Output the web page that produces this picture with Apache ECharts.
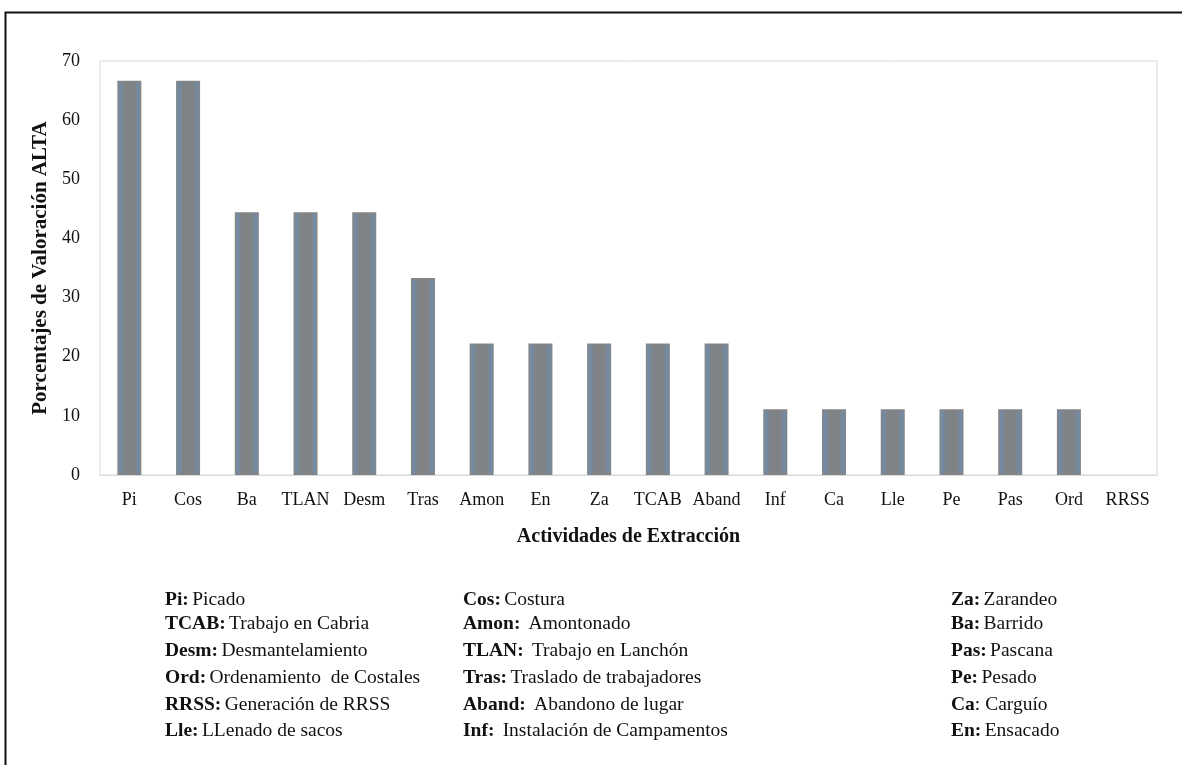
<!DOCTYPE html>
<html>
<head>
<meta charset="utf-8">
<script src="https://cdn.jsdelivr.net/npm/echarts@6/dist/echarts.min.js"></script>
<style>
  html, body { margin: 0; padding: 0; background: #fff; }
  #chart { width: 1182px; height: 765px; }
</style>
</head>
<body>
<div id="chart"></div>
<script>
// Activity codes along the x axis
const categories = ['Pi', 'Cos', 'Ba', 'TLAN', 'Desm', 'Tras', 'Amon', 'En', 'Za',
  'TCAB', 'Aband', 'Inf', 'Ca', 'Lle', 'Pe', 'Pas', 'Ord', 'RRSS'];
// Percentage of HIGH rating for each activity
const values = [66.67, 66.67, 44.44, 44.44, 44.44, 33.33, 22.22, 22.22, 22.22,
  22.22, 22.22, 11.11, 11.11, 11.11, 11.11, 11.11, 11.11, 0];
const yTicks = [0, 10, 20, 30, 40, 50, 60, 70];

// Key of abbreviations, three columns
const keyCol1 = [['Pi:', 'Picado'], ['TCAB:', 'Trabajo en Cabria'], ['Desm:', 'Desmantelamiento'],
  ['Ord:', 'Ordenamiento  de Costales'], ['RRSS:', 'Generación de RRSS'], ['Lle:', 'LLenado de sacos']];
const keyCol2 = [['Cos:', 'Costura'], ['Amon:', ' Amontonado'], ['TLAN:', ' Trabajo en Lanchón'],
  ['Tras:', 'Traslado de trabajadores'], ['Aband:', ' Abandono de lugar'], ['Inf:', ' Instalación de Campamentos']];
const keyCol3 = [['Za:', 'Zarandeo'], ['Ba:', 'Barrido'], ['Pas:', 'Pascana'],
  ['Pe:', 'Pesado'], ['Ca', ': Carguío'], ['En:', 'Ensacado']];

const FONT = '"Liberation Serif", "Times New Roman", serif';
const rowY = [601, 625, 652, 679, 706, 732];

function keyItems(col, x) {
  return col.map((pair, i) => ({
    type: 'text',
    left: x,
    top: rowY[i] - 11,
    style: {
      text: '{b|' + pair[0] + '}' + (pair[0].endsWith(':') ? ' ' : '') + '{n|' + pair[1] + '}',
      rich: {
        b: { fontFamily: FONT, fontSize: 19.5, fontWeight: 'bold', fill: '#111' },
        n: { fontFamily: FONT, fontSize: 19.5, fill: '#111' }
      }
    }
  }));
}

const chart = echarts.init(document.getElementById('chart'));
chart.setOption({
  animation: false,
  backgroundColor: '#fff',
  grid: {
    left: 100, top: 61, right: 25, bottom: 290,
    show: true, borderColor: '#d9d9d9', borderWidth: 1, backgroundColor: 'transparent'
  },
  xAxis: {
    type: 'category',
    data: categories,
    name: 'Actividades de Extracción',
    nameLocation: 'middle',
    nameGap: 52,
    nameTextStyle: { fontFamily: FONT, fontSize: 20, fontWeight: 'bold', color: '#111' },
    axisLine: { show: true, lineStyle: { color: '#d9d9d9' } },
    axisTick: { show: false },
    axisLabel: { fontFamily: FONT, fontSize: 18, color: '#111', margin: 16, interval: 0 }
  },
  yAxis: {
    type: 'value',
    min: 0, max: 70, interval: 10,
    name: 'Porcentajes de Valoración ALTA',
    nameLocation: 'middle',
    nameGap: 43,
    nameTextStyle: { fontFamily: FONT, fontSize: 21, fontWeight: 'bold', color: '#111' },
    axisLine: { show: false },
    axisTick: { show: false },
    splitLine: { show: false },
    axisLabel: {
      fontFamily: FONT, fontSize: 18, color: '#111', margin: 20,
      formatter: v => (yTicks.includes(v) ? String(v) : '')
    }
  },
  series: [{
    type: 'bar',
    data: values.map(v => (v === 0 ? { value: v, itemStyle: { borderWidth: 0 } } : v)),
    barWidth: 24,
    itemStyle: {
      color: new echarts.graphic.LinearGradient(0, 0, 1, 0, [
        { offset: 0, color: '#6a90b8' },
        { offset: 0.3, color: '#7f8386' },
        { offset: 0.7, color: '#7f8386' },
        { offset: 1, color: '#6a90b8' }
      ]),
      borderColor: '#858585',
      borderWidth: 1.5
    }
  }],
  graphic: [
    {
      type: 'rect',
      shape: { x: 5.5, y: 12.5, width: 1200, height: 800 },
      style: { fill: 'none', stroke: '#111', lineWidth: 2 },
      silent: true
    },
    ...keyItems(keyCol1, 165),
    ...keyItems(keyCol2, 463),
    ...keyItems(keyCol3, 951)
  ]
});
</script>
</body>
</html>
